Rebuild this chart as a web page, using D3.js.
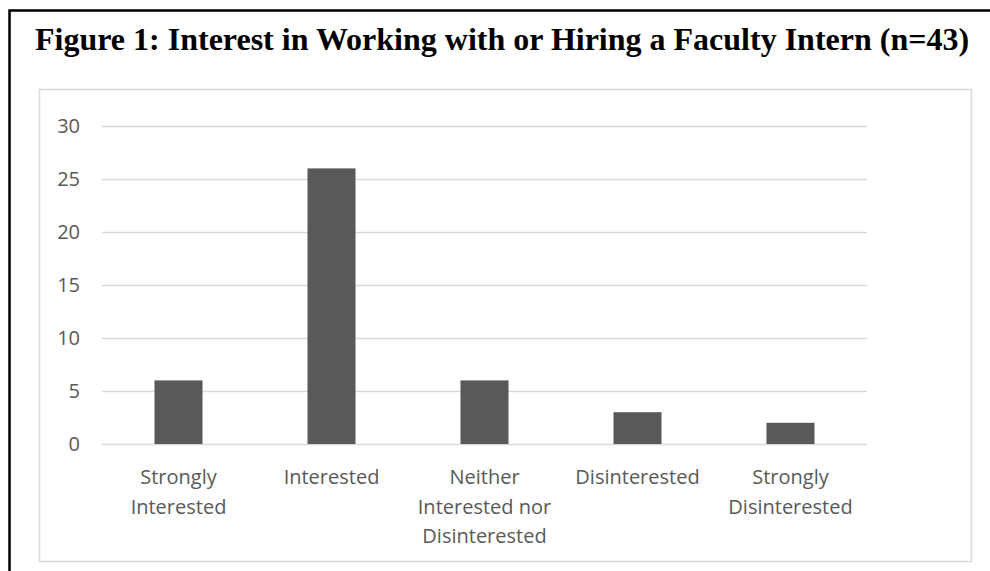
<!DOCTYPE html>
<html>
<head>
<meta charset="utf-8">
<script src="https://cdn.jsdelivr.net/npm/d3@7"></script>
<style>
  body { margin: 0; background: #fff; }
  svg { display: block; }
</style>
</head>
<body>
<svg id="chart" width="990" height="571"></svg>
<script>
// chart data
var categories = [
    ["Strongly", "Interested"],
    ["Interested"],
    ["Neither", "Interested nor", "Disinterested"],
    ["Disinterested"],
    ["Strongly", "Disinterested"]
];
var counts = [6, 26, 6, 3, 2];
var yTicks = [0, 5, 10, 15, 20, 25, 30];
var title = "Figure 1: Interest in Working with or Hiring a Faculty Intern (n=43)";

var svg = d3.select("#chart");

// outer frame (only top and left visible)
svg.append("path")
    .attr("d", "M9.5,571 L9.5,10.5 L990,10.5")
    .attr("fill", "none")
    .attr("stroke", "#000")
    .attr("stroke-width", 2.5);

svg.append("text")
    .attr("x", 35)
    .attr("y", 50)
    .attr("font-family", "'Liberation Serif', 'Times New Roman', serif")
    .attr("font-weight", "bold")
    .attr("font-size", 32)
    .attr("fill", "#000")
    .text(title);

// chart area border
svg.append("rect")
    .attr("x", 39.5)
    .attr("y", 89.5)
    .attr("width", 932)
    .attr("height", 472)
    .attr("fill", "none")
    .attr("stroke", "#d9d9d9")
    .attr("stroke-width", 1.5);

var margin = {left: 102, right: 867, top: 126, bottom: 444};

var x = d3.scaleBand()
    .domain(d3.range(categories.length))
    .range([margin.left, margin.right])
    .paddingInner(0.686)
    .paddingOuter(0.343);

var y = d3.scaleLinear()
    .domain([0, 30])
    .range([margin.bottom, margin.top]);

// gridlines
var yAxis = d3.axisLeft(y)
    .tickValues(yTicks)
    .tickSize(-(margin.right - margin.left))
    .tickPadding(22);

var gy = svg.append("g")
    .attr("transform", "translate(" + margin.left + ",0)")
    .call(yAxis);
gy.select(".domain").remove();
gy.selectAll(".tick line")
    .attr("stroke", "#d9d9d9")
    .attr("stroke-width", 1.5);
gy.selectAll(".tick text")
    .attr("font-family", "'Open Sans', 'Noto Sans', sans-serif")
    .attr("font-size", 20)
    .attr("fill", "#595959");

// bars
svg.append("g").selectAll("rect")
    .data(counts)
    .join("rect")
    .attr("x", function (d, i) { return x(i); })
    .attr("y", function (d) { return y(d); })
    .attr("width", x.bandwidth())
    .attr("height", function (d) { return y(0) - y(d); })
    .attr("fill", "#595959");

// category labels
var labels = svg.append("g").selectAll("text")
    .data(categories)
    .join("text")
    .attr("text-anchor", "middle")
    .attr("font-family", "'Open Sans', 'Noto Sans', sans-serif")
    .attr("font-size", 20)
    .attr("fill", "#595959");

labels.selectAll("tspan")
    .data(function (d, i) { return d.map(function (s) { return {s: s, i: i}; }); })
    .join("tspan")
    .attr("x", function (d) { return x(d.i) + x.bandwidth() / 2; })
    .attr("y", function (d, j) { return 484 + j * 29.5; })
    .text(function (d) { return d.s; });
</script>
</body>
</html>
